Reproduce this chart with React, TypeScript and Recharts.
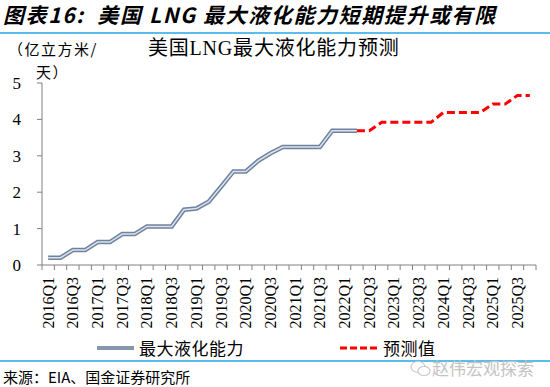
import React from "react";
import { LineChart, Line, XAxis, YAxis } from "recharts";

// 2016Q1 .. 2025Q4
const quarters = [
  "2016Q1", "2016Q2", "2016Q3", "2016Q4",
  "2017Q1", "2017Q2", "2017Q3", "2017Q4",
  "2018Q1", "2018Q2", "2018Q3", "2018Q4",
  "2019Q1", "2019Q2", "2019Q3", "2019Q4",
  "2020Q1", "2020Q2", "2020Q3", "2020Q4",
  "2021Q1", "2021Q2", "2021Q3", "2021Q4",
  "2022Q1", "2022Q2", "2022Q3", "2022Q4",
  "2023Q1", "2023Q2", "2023Q3", "2023Q4",
  "2024Q1", "2024Q2", "2024Q3", "2024Q4",
  "2025Q1", "2025Q2", "2025Q3", "2025Q4",
];

// 最大液化能力 (2016Q1 - 2022Q2)
const capacity = [
  0.2, 0.2, 0.41, 0.41, 0.63, 0.63, 0.85, 0.85, 1.06, 1.06, 1.06, 1.52, 1.55,
  1.74, 2.15, 2.57, 2.57, 2.86, 3.07, 3.24, 3.24, 3.24, 3.24, 3.69, 3.69, 3.69,
];

// 预测值 (2022Q2 - 2025Q4)
const forecastStart = 25;
const forecast = [
  3.69, 3.69, 3.92, 3.92, 3.92, 3.92, 3.92, 4.19, 4.19, 4.19, 4.19, 4.42, 4.42,
  4.66, 4.66,
];

const yTicks = [0, 1, 2, 3, 4, 5];

const data = quarters.map((q, i) => ({
  idx: i,
  name: q,
  actual: i < capacity.length ? capacity[i] : null,
  forecast:
    i >= forecastStart && i - forecastStart < forecast.length
      ? forecast[i - forecastStart]
      : null,
}));

// boundaries (x.5) get a tick mark, every other category gets a label
const xTicks: number[] = [];
for (let k = -1; k < quarters.length * 2; k++) xTicks.push(k / 2);

const SERIF = "'Liberation Serif', 'Noto Sans CJK SC', serif";
const CJK = "'Noto Sans CJK SC', 'Liberation Sans', sans-serif";
const AXIS = "#808080";

function QuarterTick(props: any) {
  const { x, y, payload } = props;
  const v = payload.value as number;
  if (!Number.isInteger(v)) {
    return <line x1={x} y1={y} x2={x} y2={y + 5} stroke={AXIS} strokeWidth={1} />;
  }
  if (v % 2 !== 0) return null;
  return (
    <text
      x={x}
      y={y + 12}
      transform={`rotate(-90 ${x} ${y + 12})`}
      textAnchor="end"
      dominantBaseline="central"
      fontFamily={SERIF}
      fontSize={16}
      fill="#000"
    >
      {quarters[v]}
    </text>
  );
}

const abs = (left: number, top: number, extra: React.CSSProperties = {}): React.CSSProperties => ({
  position: "absolute",
  left,
  top,
  whiteSpace: "pre",
  ...extra,
});

export default function App() {
  return (
    <div
      style={{
        position: "absolute",
        left: 0,
        top: 0,
        width: 550,
        height: 387,
        background: "#fff",
        overflow: "hidden",
      }}
    >
      <div
        style={abs(3, 1, {
          fontFamily: CJK,
          fontSize: 21,
          fontWeight: 700,
          fontStyle: "italic",
          letterSpacing: 1.6,
          lineHeight: "26px",
        })}
      >
        {"图表16:  美国 LNG 最大液化能力短期提升或有限"}
      </div>
      <div style={abs(0, 32, { width: 550, height: 2, background: "#5BBDE9" })} />

      <div style={abs(8, 38, { fontFamily: CJK, fontSize: 15, letterSpacing: 1.5, lineHeight: "22px" })}>
        （亿立方米/
      </div>
      <div style={abs(36, 61, { fontFamily: CJK, fontSize: 15, letterSpacing: 1.5, lineHeight: "22px" })}>
        天）
      </div>
      <div style={abs(148, 35, { fontFamily: SERIF, fontSize: 20, letterSpacing: 0.8, lineHeight: "26px" })}>
        美国LNG最大液化能力预测
      </div>

      <LineChart
        width={550}
        height={387}
        data={data}
        margin={{ top: 83, right: 14, bottom: 52, left: 0 }}
        style={{ position: "absolute", left: 0, top: 0 }}
      >
        <XAxis
          dataKey="idx"
          type="number"
          domain={[-0.5, quarters.length - 0.5]}
          ticks={xTicks}
          interval={0}
          height={70}
          tickSize={0}
          tickMargin={0}
          tickLine={false}
          axisLine={{ stroke: AXIS, strokeWidth: 1 }}
          tick={<QuarterTick />}
        />
        <YAxis
          width={42}
          domain={[0, 5]}
          ticks={yTicks}
          interval={0}
          tickSize={5}
          tickMargin={16}
          axisLine={{ stroke: AXIS, strokeWidth: 1 }}
          tickLine={{ stroke: AXIS }}
          tick={{ fontFamily: SERIF, fontSize: 17, fill: "#000" }}
        />
        <Line
          dataKey="actual"
          type="linear"
          stroke="#6F829F"
          strokeWidth={4.5}
          dot={false}
          isAnimationActive={false}
        />
        <Line
          dataKey="actual"
          type="linear"
          stroke="#DCE3EC"
          strokeWidth={1.5}
          dot={false}
          legendType="none"
          isAnimationActive={false}
        />
        <Line
          dataKey="forecast"
          type="linear"
          stroke="#FF0000"
          strokeWidth={3}
          strokeDasharray="8 4"
          dot={false}
          isAnimationActive={false}
        />
      </LineChart>

      {/* legend */}
      <div style={abs(97, 346, { width: 37, height: 4, background: "#8497B0" })} />
      <div style={abs(139, 336, { fontFamily: CJK, fontSize: 17, letterSpacing: 0.5, lineHeight: "24px" })}>
        最大液化能力
      </div>
      <svg style={{ position: "absolute", left: 340, top: 345 }} width={40} height={6}>
        <line x1={0} y1={3} x2={38} y2={3} stroke="#FF0000" strokeWidth={3} strokeDasharray="7 3" />
      </svg>
      <div style={abs(383, 336, { fontFamily: CJK, fontSize: 17, letterSpacing: 0.5, lineHeight: "24px" })}>
        预测值
      </div>

      <div style={abs(0, 360, { width: 550, height: 2, background: "#5BBDE9" })} />
      <svg style={{ position: "absolute", left: 410, top: 360 }} width={22} height={18}>
        <ellipse cx={8} cy={7} rx={7} ry={5.5} fill="none" stroke="#C8C8C8" strokeWidth={1.2} />
        <ellipse cx={14} cy={11} rx={6} ry={4.5} fill="#fff" stroke="#C8C8C8" strokeWidth={1.2} />
      </svg>
      <div style={abs(432, 357, { fontFamily: CJK, fontSize: 17, color: "#C4C4C4", lineHeight: "22px" })}>
        赵伟宏观探索
      </div>
      <div style={abs(3, 367, { fontFamily: CJK, fontSize: 15, lineHeight: "20px" })}>
        来源：EIA、国金证券研究所
      </div>
    </div>
  );
}
